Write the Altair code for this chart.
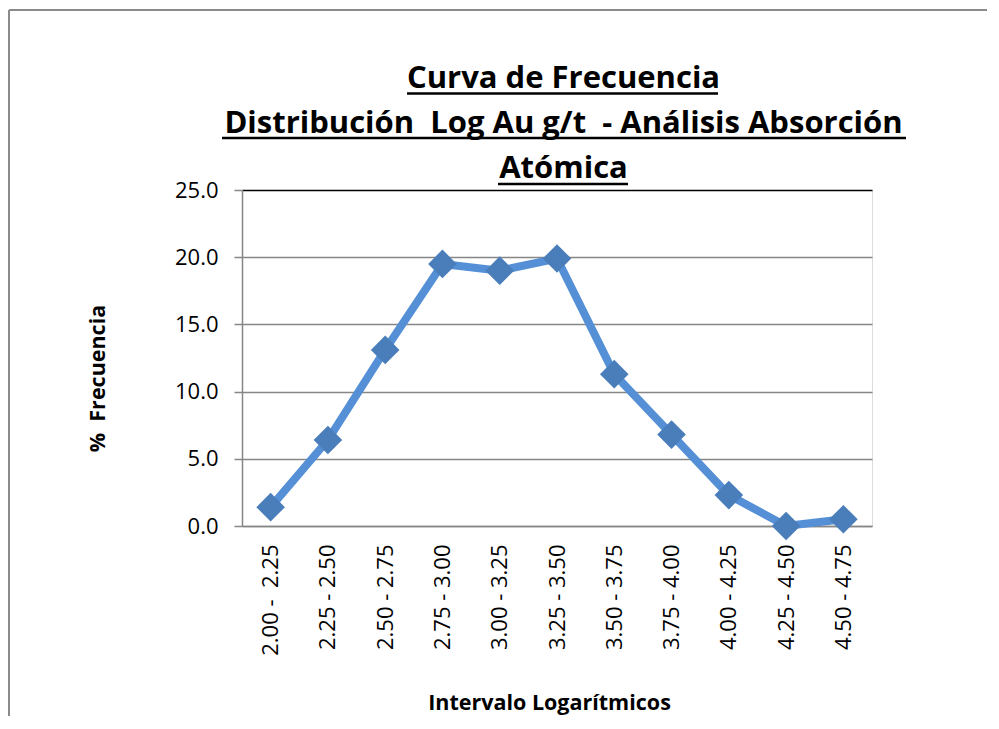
import altair as alt
import pandas as pd

NB = "\u00a0"

# Data
intervals = ["2.00 -" + NB + " 2.25", "2.25 - 2.50", "2.50 - 2.75", "2.75 - 3.00", "3.00 - 3.25",
             "3.25 - 3.50", "3.50 - 3.75", "3.75 - 4.00", "4.00 - 4.25", "4.25 - 4.50",
             "4.50 - 4.75"]
frecuencia = [1.4, 6.4, 13.1, 19.5, 19.0, 19.9, 11.3, 6.8, 2.3, 0.0, 0.5]
y_ticks = [0, 5, 10, 15, 20, 25]
title_lines = ["Curva de Frecuencia",
               "Distribución" + NB + " Log Au g/t" + NB + " - Análisis Absorción",
               "Atómica"]
x_title = "Intervalo Logarítmicos"
y_title = "%" + NB + " Frecuencia"

df = pd.DataFrame({"intervalo": intervals, "pct": frecuencia})
one = pd.DataFrame({"k": [0]})

FONT = "Open Sans"
GRAY = "#868686"

x_enc = alt.X("intervalo:N", sort=intervals,
              scale=alt.Scale(paddingInner=0, paddingOuter=0),
              axis=alt.Axis(title=x_title, labelAngle=-90, ticks=False, tickSize=0,
                            domainColor=GRAY, domainWidth=1.5, grid=False,
                            labelFont=FONT, labelFontSize=22, labelColor="black",
                            labelPadding=18, titleFont=FONT, titleFontSize=21.5,
                            titleFontWeight="bold", titleColor="black",
                            titleX=307, titleY=177, titleAlign="center",
                            titleBaseline="middle"))
y_enc = alt.Y("pct:Q", scale=alt.Scale(domain=[0, 25], nice=False),
              axis=alt.Axis(title=y_title, values=y_ticks, format=".1f",
                            domainColor=GRAY, domainWidth=1.5,
                            tickColor=GRAY, tickSize=8, tickWidth=1.5,
                            gridColor={"condition": {"test": "datum.value === 25", "value": "black"},
                                       "value": GRAY},
                            gridWidth=1.5,
                            labelFont=FONT, labelFontSize=22, labelColor="black",
                            labelPadding=16, titleFont=FONT, titleFontSize=21.5,
                            titleFontWeight="bold", titleColor="black",
                            titleX=-144, titleY=188, titleAngle=270,
                            titleAlign="center", titleBaseline="middle"))

line = alt.Chart(df).mark_line(color="#5590D6", strokeWidth=8).encode(x=x_enc, y=y_enc)
pts = alt.Chart(df).mark_point(shape="diamond", filled=True, size=820,
                               color="#4A7EBB", opacity=1).encode(x=x_enc, y=y_enc)

layers = [line, pts]

# title lines (relative to plot origin)
title_y = [-102, -57, -12]
for txt, ty in zip(title_lines, title_y):
    layers.append(alt.Chart(one).mark_text(text=txt, font=FONT, fontSize=31,
                                           fontWeight="bold", color="black",
                                           align="center", baseline="alphabetic")
                  .encode(x=alt.value(321.5), y=alt.value(ty)))

# underlines
ul = [(165, 476, -96.5), (-20, 664, -52), (256, 386, -6)]
for a, b, c in ul:
    layers.append(alt.Chart(one).mark_rule(color="black", strokeWidth=2.5)
                  .encode(x=alt.value(a), x2=alt.value(b), y=alt.value(c)))

# outer chart border (left and top)
layers.append(alt.Chart(one).mark_rule(color="#8a8a8a", strokeWidth=2)
              .encode(x=alt.value(-233), y=alt.value(-180), y2=alt.value(600)))
layers.append(alt.Chart(one).mark_rule(color="#8a8a8a", strokeWidth=2)
              .encode(x=alt.value(-233), x2=alt.value(800), y=alt.value(-180)))

chart = alt.layer(*layers).properties(
    width=630, height=336,
    autosize=alt.AutoSizeParams(type="none"),
    padding={"left": 234, "top": 182, "right": 115, "bottom": 190},
).configure_view(stroke="black", strokeWidth=1.5).configure(background="white")

chart.save("out.html", embed_options={"renderer": "svg", "actions": False})
